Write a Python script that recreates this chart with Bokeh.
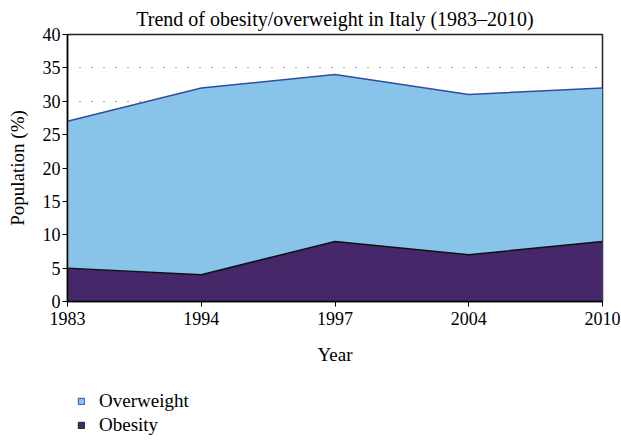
from bokeh.plotting import figure
from bokeh.layouts import column
from bokeh.models import FixedTicker, Legend, LegendItem, Range1d, ColumnDataSource
from bokeh.embed import file_html
from bokeh.resources import INLINE

years = ["1983", "1994", "1997", "2004", "2010"]
overweight = [27, 32, 34, 31, 32]
obesity = [5, 4, 9, 7, 9]
y_ticks = [0, 5, 10, 15, 20, 25, 30, 35, 40]

xs = list(range(len(years)))
FONT = "Liberation Serif"
OW_FILL, OW_LINE = "#88C3E9", "#2E4FA0"
OB_FILL, OB_LINE = "#46276A", "#111111"

p = figure(width=621, height=380, output_backend="svg", toolbar_location=None,
           x_range=Range1d(0, len(years) - 1), y_range=Range1d(0, 40),
           min_border_left=67, min_border_right=19, min_border_top=0, min_border_bottom=79)

p.title.text = "Trend of obesity/overweight in Italy (1983\u20132010)"
p.title.align = "center"
p.title.text_font = FONT
p.title.text_font_size = "20px"
p.title.text_font_style = "normal"
p.title.text_color = "black"
p.title.standoff = 10
p.title.offset = 0

src = ColumnDataSource(dict(x=xs, ow=overweight, ob=obesity, z=[0] * len(xs)))

p.varea(x="x", y1="z", y2="ow", source=src, fill_color=OW_FILL)
p.line(x="x", y="ow", source=src, line_color=OW_LINE, line_width=1.5)
p.varea(x="x", y1="z", y2="ob", source=src, fill_color=OB_FILL)
p.line(x="x", y="ob", source=src, line_color=OB_LINE, line_width=1.5)

# axes
p.xaxis.ticker = FixedTicker(ticks=xs)
p.xaxis.major_label_overrides = {i: y for i, y in enumerate(years)}
p.yaxis.ticker = FixedTicker(ticks=y_ticks)
for ax in (p.xaxis, p.yaxis):
    ax.axis_line_color = "black"
    ax.axis_line_width = 1.5
    ax.major_tick_line_color = "black"
    ax.major_tick_in = 0
    ax.major_tick_out = 5
    ax.minor_tick_line_color = None
    ax.major_label_text_font = FONT
    ax.major_label_text_font_size = "18px"
    ax.major_label_text_color = "black"
    ax.axis_label_text_font = FONT
    ax.axis_label_text_font_size = "19px"
    ax.axis_label_text_font_style = "normal"
    ax.axis_label_text_color = "black"

p.xaxis.axis_label = "Year"
p.xaxis.major_label_standoff = 5
p.xaxis.axis_label_standoff = 16
p.yaxis.axis_label = "Population (%)"
p.yaxis.major_label_standoff = 2
p.yaxis.axis_label_standoff = 12

p.xgrid.grid_line_color = None
p.ygrid.ticker = FixedTicker(ticks=[5, 10, 15, 20, 25, 30, 35])
p.ygrid.grid_line_color = "#555555"
p.ygrid.grid_line_dash = "1 11"
p.ygrid.grid_line_width = 1

p.outline_line_color = "#222222"
p.outline_line_width = 1.5
p.background_fill_color = "white"
p.border_fill_color = "white"

# legend figure (its frame is aligned with the main frame by the column layout)
lf = figure(width=621, height=60, output_backend="svg", toolbar_location=None,
            x_range=Range1d(0, 1), y_range=Range1d(0, 1),
            x_axis_location=None, y_axis_location=None,
            min_border_left=0, min_border_right=0, min_border_top=0, min_border_bottom=0)
lf.grid.visible = False
lf.outline_line_color = None
nan = float("nan")
proxy = ColumnDataSource(dict(l=[nan], r=[nan], b=[nan], t=[nan]))
r_ow = lf.quad(left="l", right="r", bottom="b", top="t", source=proxy,
               fill_color=OW_FILL, line_color=OW_LINE)
r_ob = lf.quad(left="l", right="r", bottom="b", top="t", source=proxy,
               fill_color=OB_FILL, line_color="#222222")
legend = Legend(items=[LegendItem(label="Overweight", renderers=[r_ow]),
                       LegendItem(label="Obesity", renderers=[r_ob])],
                orientation="vertical", location=(10, 4))
legend.label_text_font = FONT
legend.label_text_font_size = "19px"
legend.label_text_color = "black"
legend.glyph_width = 8
legend.glyph_height = 8
legend.label_height = 20
legend.label_standoff = 14
legend.spacing = 2
legend.padding = 0
legend.margin = 0
legend.border_line_color = None
legend.background_fill_alpha = 0
lf.add_layout(legend, "center")

layout = column(p, lf, spacing=0)
open("out.html", "w").write(file_html(layout, INLINE))
